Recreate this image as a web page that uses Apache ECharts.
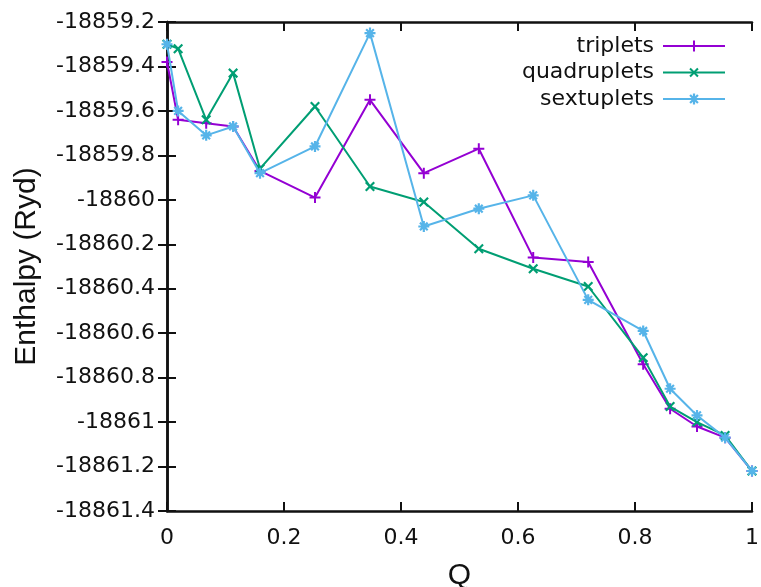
<!DOCTYPE html>
<html>
<head>
<meta charset="utf-8">
<script src="https://cdn.jsdelivr.net/npm/echarts@6/dist/echarts.min.js"></script>
<style>html,body{margin:0;padding:0;background:#fff}#c{width:761px;height:587px}</style>
</head>
<body>
<div id="c"></div>
<script>
const qValues = [0, 0.019, 0.067, 0.113, 0.159, 0.253, 0.347, 0.439, 0.533, 0.626, 0.72, 0.814, 0.86, 0.906, 0.954, 1];
const triplets = [-18859.38, -18859.64, -18859.655, -18859.67, -18859.87, -18859.99, -18859.55, -18859.88, -18859.77, -18860.26, -18860.28, -18860.74, -18860.94, -18861.02, -18861.07, -18861.22];
const quadruplets = [-18859.30, -18859.32, -18859.64, -18859.43, -18859.86, -18859.58, -18859.94, -18860.01, -18860.22, -18860.31, -18860.39, -18860.71, -18860.93, -18861.00, -18861.06, -18861.22];
const sextuplets = [-18859.30, -18859.60, -18859.71, -18859.67, -18859.88, -18859.76, -18859.25, -18860.12, -18860.04, -18859.98, -18860.45, -18860.59, -18860.85, -18860.97, -18861.07, -18861.22];
const seriesNames = ['triplets', 'quadruplets', 'sextuplets'];
const xTicks = [0, 0.2, 0.4, 0.6, 0.8, 1];
const yMin = -18861.4, yMax = -18859.2;

const colors = ['#9400D3', '#009E73', '#56B4E9'];
const plusPath = 'path://M4.1,0H5.9V4.1H10V5.9H5.9V10H4.1V5.9H0V4.1H4.1Z';
const starPath = 'path://M4,0H6V4H10V6H6V10H4V6H0V4H4Z M0.8,2.2L2.2,0.8L9.2,7.8L7.8,9.2Z M7.8,0.8L9.2,2.2L2.2,9.2L0.8,7.8Z';
const symbols = [plusPath, plusPath, starPath];
const rotations = [0, 45, 0];
const sizes = [11, 12, 11];
const dataSets = [triplets, quadruplets, sextuplets];

function fmt(v) {
  let s = (Math.round(v * 10) / 10).toFixed(1);
  if (s.endsWith('.0')) s = s.slice(0, -2);
  if (s === '-0') s = '0';
  return s;
}
const tickFont = {fontFamily: 'DejaVu Sans', fontSize: 22, color: '#111'};
const axisLine = {show: true, lineStyle: {color: '#111', width: 2.5}};
const axisTick = {show: true, inside: true, length: 9, lineStyle: {color: '#111', width: 2}};

const chart = echarts.init(document.getElementById('c'));
chart.setOption({
  animation: false,
  backgroundColor: '#fff',
  grid: {left: 167, right: 9, top: 22, bottom: 76, containLabel: false, outerBoundsMode: 'none'},
  legend: {
    right: 30, top: 30, orient: 'vertical', align: 'right',
    itemWidth: 62, itemHeight: 14, itemGap: 4.5,
    textStyle: {fontFamily: 'DejaVu Sans', fontSize: 22, color: '#111', padding: [0, 4, 0, 0]},
    data: seriesNames
  },
  xAxis: [{
    type: 'value', min: 0, max: 1, interval: 0.2,
    name: 'Q', nameLocation: 'middle', nameGap: 50,
    nameTextStyle: {fontFamily: 'Liberation Sans', fontSize: 30, color: '#111'},
    axisLine, axisTick, splitLine: {show: false},
    axisLabel: Object.assign({margin: 16, formatter: fmt}, tickFont)
  }, {
    type: 'value', min: 0, max: 1, interval: 0.2, position: 'top',
    axisLine, axisTick, splitLine: {show: false}, axisLabel: {show: false}
  }],
  yAxis: [{
    type: 'value', min: yMin, max: yMax, interval: 0.2,
    name: 'Enthalpy (Ryd)', nameLocation: 'middle', nameGap: 125, nameRotate: 90,
    nameTextStyle: {fontFamily: 'Liberation Sans', fontSize: 30, color: '#111'},
    axisLine, axisTick, splitLine: {show: false},
    axisLabel: Object.assign({margin: 12, formatter: fmt}, tickFont)
  }, {
    type: 'value', min: yMin, max: yMax, interval: 0.2, position: 'right',
    axisLine, axisTick, splitLine: {show: false}, axisLabel: {show: false}
  }],
  series: seriesNames.map((n, i) => ({
    name: n, type: 'line',
    data: qValues.map((q, j) => [q, dataSets[i][j]]),
    symbol: symbols[i], symbolSize: sizes[i], symbolRotate: rotations[i],
    showAllSymbol: true,
    lineStyle: {color: colors[i], width: 2},
    itemStyle: {color: colors[i]},
    z: 3 + i
  }))
});
</script>
</body>
</html>
